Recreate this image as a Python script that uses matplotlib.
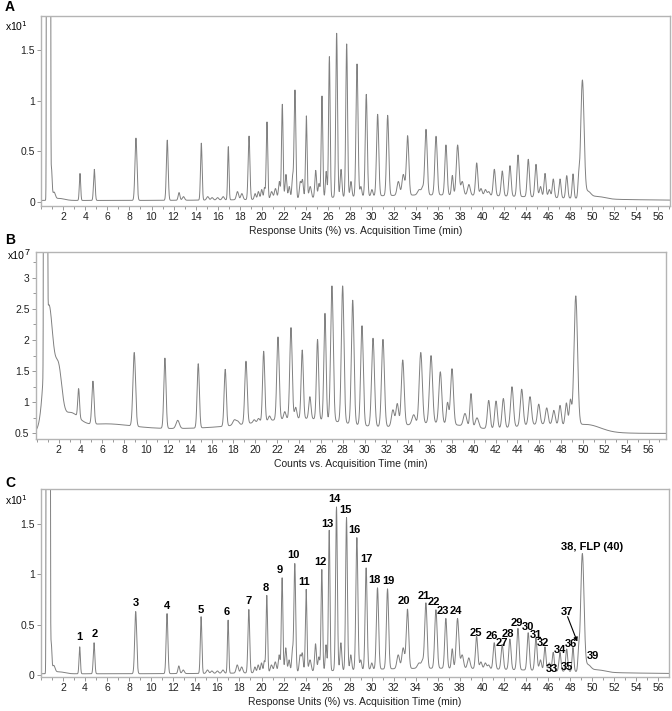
"""Three stacked chromatograms (A: response units, B: counts, C: labelled peaks)."""

import numpy as np
import matplotlib

matplotlib.use("Agg")
import matplotlib.pyplot as plt
from matplotlib.ticker import MultipleLocator

plt.rcParams["font.family"] = ["Liberation Sans", "DejaVu Sans"]

# --- Response-unit trace (panels A and C), values in x10^1 -----------------
# apex time (min), apex value, peak width (sigma, min)
ru_peak_time = [
    3.51, 4.81, 8.59, 11.43, 12.5, 12.9, 14.52, 15.1, 15.5, 16.0, 16.5, 16.97,
    17.8, 18.2, 18.85, 19.4, 19.7, 20.0, 20.25, 20.48, 20.9, 21.25, 21.6,
    21.87, 22.2, 22.5, 22.8, 23.02, 23.5, 23.7, 24.05, 24.4, 24.9, 25.2,
    25.47, 25.85, 26.14, 26.8, 27.2, 27.71, 28.1, 28.65, 29.0, 29.49, 30.0,
    30.52, 31.43, 32.4, 32.85, 33.24, 34.3, 34.6, 34.91, 35.82, 36.72, 37.3,
    37.78, 38.2, 38.8, 39.51, 39.9, 40.3, 40.6, 41.11, 41.83, 42.53, 43.26,
    44.19, 44.89, 45.3, 45.71, 46.1, 46.46, 47.07, 47.68, 48.25, 48.76, 49.1,
]
ru_peak_top = [
    0.28, 0.32, 0.63, 0.61, 0.09, 0.05, 0.58, 0.05, 0.04, 0.04, 0.05, 0.545,
    0.10, 0.08, 0.65, 0.08, 0.10, 0.12, 0.14, 0.79, 0.10, 0.13, 0.20,
    0.965, 0.27, 0.15, 0.26, 1.107, 0.20, 0.22, 0.85, 0.15, 0.31, 0.18,
    1.047, 0.30, 1.437, 1.669, 0.32, 1.563, 0.20, 1.365, 0.15, 1.064, 0.12,
    0.866, 0.856, 0.20, 0.27, 0.654, 0.12, 0.15, 0.717, 0.648, 0.562, 0.26,
    0.562, 0.20, 0.17, 0.384, 0.13, 0.12, 0.10, 0.321, 0.304, 0.357, 0.463,
    0.42, 0.37, 0.15, 0.28, 0.12, 0.225, 0.225, 0.258, 0.275, 0.29, 1.206,
]
ru_peak_width = [
    0.06, 0.07, 0.09, 0.08, 0.08, 0.10, 0.07, 0.10, 0.10, 0.10, 0.10, 0.06,
    0.10, 0.10, 0.08, 0.08, 0.08, 0.08, 0.06, 0.07, 0.10, 0.10, 0.08,
    0.07, 0.08, 0.08, 0.07, 0.08, 0.08, 0.08, 0.07, 0.10, 0.08, 0.08,
    0.07, 0.07, 0.07, 0.08, 0.08, 0.08, 0.08, 0.09, 0.08, 0.09, 0.08,
    0.10, 0.10, 0.12, 0.12, 0.11, 0.15, 0.10, 0.11, 0.11, 0.10, 0.08,
    0.12, 0.12, 0.12, 0.10, 0.10, 0.10, 0.10, 0.10, 0.10, 0.10, 0.10,
    0.10, 0.10, 0.10, 0.09, 0.10, 0.09, 0.09, 0.09, 0.08, 0.07, 0.15,
]
# solvent front and slow background humps: centre, height, width
ru_base = 0.012
ru_bg_time = [0.655, 0.92, 1.15, 1.6, 36.0, 49.6, 50.4]
ru_bg_height = [1e4, 0.30, 0.07, 0.02, 0.055, 0.06, 0.025]
ru_bg_width = [0.05, 0.06, 0.12, 0.5, 9.0, 0.25, 0.7]

# --- Counts trace (panel B), values in x10^7 -------------------------------
ct_peak_time = [
    3.83, 5.14, 8.92, 11.73, 12.9, 14.78, 17.25, 18.1, 18.4, 19.15, 19.9,
    20.3, 20.77, 21.3, 22.08, 22.7, 23.27, 23.7, 24.3, 25.0, 25.7, 26.38,
    27.02, 28.0, 28.92, 29.77, 30.78, 31.69, 32.6, 33.0, 33.5, 34.5, 35.15,
    36.09, 36.94, 37.6, 38.01, 39.2, 39.75, 40.3, 41.37, 42.04, 42.71, 43.5,
    44.39, 45.15, 45.95, 46.68, 47.33, 47.9, 48.48, 48.85, 49.34,
]
ct_peak_top = [
    1.22, 1.34, 1.80, 1.71, 0.71, 1.62, 1.53, 0.72, 0.70, 1.66, 0.72,
    0.74, 1.82, 0.78, 2.05, 0.85, 2.20, 0.92, 1.84, 1.09, 2.01, 2.43,
    2.87, 2.87, 2.64, 2.23, 2.03, 2.01, 0.88, 0.98, 1.68, 0.80, 1.80,
    1.75, 1.49, 1.00, 1.54, 0.82, 1.14, 0.75, 1.03, 1.02, 1.06, 1.25,
    1.21, 1.09, 0.97, 0.91, 0.87, 0.95, 0.99, 1.05, 2.71,
]
ct_peak_width = [
    0.08, 0.10, 0.12, 0.10, 0.15, 0.10, 0.10, 0.15, 0.12, 0.11, 0.10,
    0.10, 0.10, 0.10, 0.11, 0.10, 0.11, 0.10, 0.10, 0.10, 0.10, 0.10,
    0.12, 0.12, 0.12, 0.12, 0.13, 0.13, 0.13, 0.12, 0.13, 0.15, 0.14,
    0.14, 0.13, 0.10, 0.13, 0.15, 0.10, 0.15, 0.12, 0.12, 0.12, 0.13,
    0.13, 0.13, 0.12, 0.12, 0.12, 0.11, 0.11, 0.10, 0.16,
]
ct_base = 0.5
ct_bg_time = [0.8, 1.1, 2.0, 3.0, 6.0, 12.0, 24.5, 36.5, 46.5, 50.6]
ct_bg_height = [1e4, 2.0, 0.8, 0.25, 0.10, 0.07, 0.22, 0.16, 0.15, 0.08]
ct_bg_width = [0.05, 0.40, 0.30, 0.8, 2.5, 8.0, 4.5, 3.0, 3.0, 1.1]

# --- Peak labels for panel C ------------------------------------------------
label_text = [str(i) for i in range(1, 37)] + ["38, FLP (40)", "39"]
label_x = [
    3.51, 4.87, 8.56, 11.44, 14.49, 16.85, 18.85, 20.39, 21.69, 22.93, 23.87,
    25.35, 25.95, 26.59, 27.65, 28.44, 29.56, 30.28, 31.55, 32.94, 34.73,
    35.64, 36.48, 37.63, 39.45, 40.93, 41.83, 42.35, 43.17, 44.17, 44.86,
    45.56, 46.37, 47.04, 47.68, 48.04, 50.0, 50.06,
]
label_y = [
    0.374, 0.41, 0.718, 0.685, 0.649, 0.629, 0.732, 0.861, 1.04, 1.195, 0.924,
    1.122, 1.503, 1.751, 1.635, 1.443, 1.152, 0.943, 0.937, 0.731, 0.788,
    0.728, 0.639, 0.632, 0.42, 0.387, 0.321, 0.404, 0.513, 0.477, 0.397,
    0.315, 0.063, 0.248, 0.076, 0.311, 1.268, 0.192,
]
# peak 37 is labelled with an arrow
arrow_label = "37"
arrow_label_xy = (47.7, 0.626)
arrow_tail = (47.76, 0.579)
arrow_head = (48.64, 0.331)


def gauss(t, c, h, w):
    return h * np.exp(-0.5 * ((t - c) / w) ** 2)


def build_trace(t, peak_time, peak_top, peak_width, base, bg_time, bg_height, bg_width):
    """Background humps plus peaks whose amplitudes reproduce the read apex values."""
    pt = np.asarray(peak_time)
    pw = np.asarray(peak_width)

    def background(x):
        y = np.full_like(x, base, dtype=float)
        for c, h, w in zip(bg_time, bg_height, bg_width):
            y += gauss(x, c, h, w)
        return y

    G = np.exp(-0.5 * ((pt[:, None] - pt[None, :]) / pw[None, :]) ** 2)
    amp = np.linalg.solve(G, np.asarray(peak_top) - background(pt))
    y = background(t)
    for c, a, w in zip(pt, amp, pw):
        y += gauss(t, c, a, w)
    return y


t = np.linspace(0, 57.6, 8000)
ru = build_trace(t, ru_peak_time, ru_peak_top, ru_peak_width,
                 ru_base, ru_bg_time, ru_bg_height, ru_bg_width)
ct = build_trace(t, ct_peak_time, ct_peak_top, ct_peak_width,
                 ct_base, ct_bg_time, ct_bg_height, ct_bg_width)

W, H = 672, 711
fig = plt.figure(figsize=(W / 100, H / 100), dpi=100)


def px_axes(left, top, right, bottom):
    return fig.add_axes([left / W, 1 - bottom / H, (right - left) / W, (bottom - top) / H])


line_color = "#808080"
frame_color = "#b4b4b4"
fs = 7.5


def style(ax, xlim, ylim, xlabel):
    ax.set_xlim(*xlim)
    ax.set_ylim(*ylim)
    for s in ax.spines.values():
        s.set_color(frame_color)
        s.set_linewidth(1.0)
    ax.xaxis.set_minor_locator(MultipleLocator(1))
    ax.tick_params(axis="both", which="both", colors="#888888", labelcolor="#222222",
                   labelsize=fs, length=3, width=0.6, pad=1.5)
    ax.tick_params(axis="both", which="minor", length=2)
    ax.set_xticks(np.arange(2, 57, 2))
    ax.set_xticklabels([str(v) for v in range(2, 57, 2)])
    ax.set_xlabel(xlabel, fontsize=fs, color="#222222", labelpad=3)


# Panel A
axA = px_axes(41.3, 16, 670, 206)
axA.plot(t, ru, color=line_color, lw=0.7)
style(axA, (0, 57.05), (-0.043, 1.84), "Response Units (%) vs. Acquisition Time (min)")
axA.set_yticks([0, 0.5, 1, 1.5])
axA.set_yticklabels(["0", "0.5", "1", "1.5"])
fig.text(5 / W, 1 - 7 / H, "A", fontsize=10, fontweight="bold", va="center")
fig.text(5 / W, 1 - 26 / H, r"x10$^{1}$", fontsize=fs, va="center")

# Panel B
axB = px_axes(35.7, 252.3, 666, 439)
axB.plot(t, ct, color=line_color, lw=0.7)
style(axB, (-0.1, 57.6), (0.41, 3.41), "Counts vs. Acquisition Time (min)")
axB.set_yticks([0.5, 1, 1.5, 2, 2.5, 3])
axB.set_yticklabels(["0.5", "1", "1.5", "2", "2.5", "3"])
axB.yaxis.set_minor_locator(MultipleLocator(0.25))
fig.text(5 / W, 1 - 240 / H, "B", fontsize=10, fontweight="bold", va="center")
fig.text(8 / W, 1 - 256 / H, "x10", fontsize=fs, va="center")
fig.text(25 / W, 1 - 253 / H, "7", fontsize=fs - 1, va="center")

# Panel C
axC = px_axes(41, 489.3, 669, 676.7)
axC.plot(t, ru, color=line_color, lw=0.7)
style(axC, (0, 56.96), (-0.017, 1.844), "Response Units (%) vs. Acquisition Time (min)")
axC.set_yticks([0, 0.5, 1, 1.5])
axC.set_yticklabels(["0", "0.5", "1", "1.5"])
fig.text(5 / W, 1 - 483 / H, "C", fontsize=10, fontweight="bold", va="center")
fig.text(5 / W, 1 - 500 / H, r"x10$^{1}$", fontsize=fs, va="center")

for s, x, y in zip(label_text, label_x, label_y):
    axC.text(x, y, s, fontsize=8, fontweight="bold", ha="center", va="center")
axC.text(*arrow_label_xy, arrow_label, fontsize=8, fontweight="bold", ha="center", va="center")
axC.annotate("", xy=arrow_head, xytext=arrow_tail,
             arrowprops=dict(arrowstyle="-|>", color="black", lw=0.8, mutation_scale=6,
                             shrinkA=0, shrinkB=0))

fig.savefig("out.png", dpi=100)
